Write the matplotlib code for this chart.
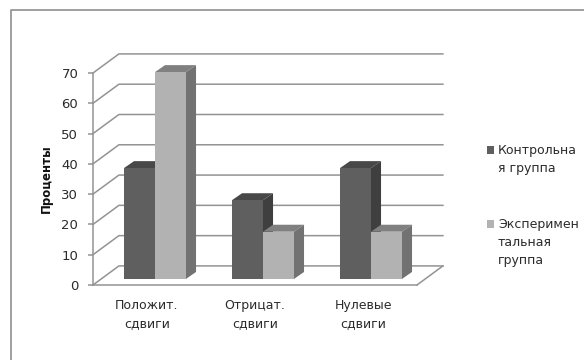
import matplotlib
matplotlib.use("Agg")
import matplotlib.pyplot as plt
from matplotlib.lines import Line2D
from matplotlib.patches import Polygon, Rectangle

# данные диаграммы
categories = ["Положит.\nсдвиги", "Отрицат.\nсдвиги", "Нулевые\nсдвиги"]
control = [36.6, 26.0, 36.6]
experiment = [68.3, 15.6, 15.6]
legend_labels = ["Контрольна\nя группа", "Эксперимен\nтальная\nгруппа"]
y_ticks = [0, 10, 20, 30, 40, 50, 60, 70]

W, H = 584, 360
LINE = "#939393"
TEXT = "#2b2b2b"

# псевдо-3D: сдвиг задней стенки и глубина столбиков в единицах осей
wall_dx, wall_dy = 0.24, 6.3
bar_dx, bar_dy = 0.093, 2.3
bar_w = 0.287
bar_base = 2.0
group_shift = 0.074

fig = plt.figure(figsize=(W / 100, H / 100), dpi=100, facecolor="white")

# рамка области диаграммы: видны только верх и левый край
fig.add_artist(Line2D([10.5 / W, 10.5 / W, 1], [0, 1 - 9.5 / H, 1 - 9.5 / H], color="#8f8f8f", lw=1.2))

ax = fig.add_axes([93 / W, 1 - 285 / H, 324 / W, 212 / H])
ax.set_xlim(-0.5, 2.5)
ax.set_ylim(0, 70)
ax.patch.set_alpha(0)
for side in ["top", "right"]:
    ax.spines[side].set_visible(False)
for side in ["left", "bottom"]:
    ax.spines[side].set_color(LINE)
    ax.spines[side].set_linewidth(1.1)

# сетка на задней стенке и на полу
x0, x1 = -0.5, 2.5
for t in y_ticks:
    ax.plot([x0, x0 + wall_dx, x1 + wall_dx], [t, t + wall_dy, t + wall_dy],
            color=LINE, lw=1.1, clip_on=False, zorder=1)
ax.plot([x1, x1 + wall_dx], [0, wall_dy], color=LINE, lw=1.1, clip_on=False, zorder=1)


def draw_bars(pos, values, front, top, side, order):
    for p, v in zip(pos, values):
        y1 = bar_base + v
        ax.bar(p, v, bar_w, bottom=bar_base, align="edge", color=front, zorder=order + 1, clip_on=False)
        ax.add_patch(Polygon([(p, y1), (p + bar_dx, y1 + bar_dy), (p + bar_w + bar_dx, y1 + bar_dy), (p + bar_w, y1)],
                             facecolor=top, edgecolor="none", zorder=order, clip_on=False))
        ax.add_patch(Polygon([(p + bar_w, bar_base), (p + bar_w + bar_dx, bar_base + bar_dy),
                              (p + bar_w + bar_dx, y1 + bar_dy), (p + bar_w, y1)],
                             facecolor=side, edgecolor="none", zorder=order, clip_on=False))


xs = range(len(categories))
draw_bars([x + group_shift - bar_w for x in xs], control, "#5f5f5f", "#484848", "#3f3f3f", 2)
draw_bars([x + group_shift for x in xs], experiment, "#b2b2b2", "#808080", "#727272", 4)

ax.set_xticks(list(xs))
ax.set_xticklabels(categories, fontsize=9, color=TEXT, linespacing=1.5)
ax.tick_params(axis="x", length=0, pad=10)
ax.set_yticks(y_ticks)
ax.tick_params(axis="y", length=3.6, width=1.1, color=LINE, labelsize=9.5, labelcolor=TEXT, pad=7)
ax.set_ylabel("Проценты", fontsize=8.5, fontweight="bold", color="#111111", labelpad=6)

# легенда справа
legend_y = [150, 224]
legend_colors = ["#5f5f5f", "#b2b2b2"]
for label, y, c in zip(legend_labels, legend_y, legend_colors):
    fig.add_artist(Rectangle((486.5 / W, 1 - (y + 4) / H), 8 / W, 8 / H, transform=fig.transFigure,
                             facecolor=c, edgecolor="none"))
    fig.text(498 / W, 1 - (y - 6) / H, label, fontsize=9, color=TEXT, va="top", ha="left", linespacing=1.5)

fig.savefig("out.png", dpi=100)
